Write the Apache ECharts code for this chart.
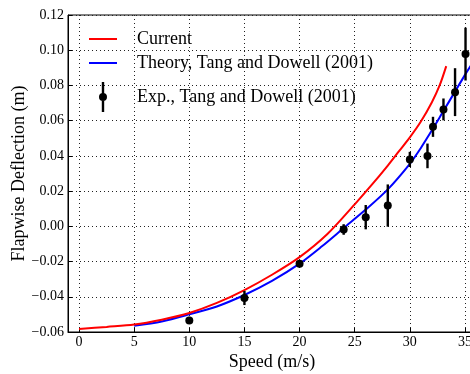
<!DOCTYPE html>
<html>
<head>
<meta charset="utf-8">
<script src="https://cdn.jsdelivr.net/npm/echarts@6/dist/echarts.min.js"></script>
<style>
  html, body { margin: 0; padding: 0; background: #fff; }
  #main { width: 470px; height: 374px; }
</style>
</head>
<body>
<div id="main"></div>
<script>
// speed (m/s) samples for the two model curves
const currentSpeed = [0, 2.5, 5, 7.5, 10, 12.5, 15, 17.5, 20, 22.5, 25, 26.5, 28, 29, 30, 31, 32, 32.7, 33.3];
const currentDefl = [-0.0583, -0.0571, -0.0558, -0.053, -0.0492, -0.0435, -0.0362, -0.0275, -0.0175, -0.0045, 0.0125, 0.0232, 0.0345, 0.0425, 0.0505, 0.0595, 0.0705, 0.080, 0.091];
const theorySpeed = [5, 7.5, 10, 12.5, 15, 17.5, 20, 22, 24, 26, 28, 30, 31, 32, 33, 34, 35, 35.6];
const theoryDefl = [-0.0565, -0.054, -0.050, -0.0455, -0.039, -0.031, -0.0212, -0.0115, -0.001, 0.0095, 0.021, 0.0355, 0.0445, 0.0545, 0.065, 0.0755, 0.086, 0.092];
// experiment: speed, deflection, +/- error
const expSpeed = [10, 15, 20, 24, 26, 28, 30, 31.6, 32.1, 33.05, 34.1, 35.05];
const expDefl = [-0.0534, -0.0407, -0.0212, -0.0018, 0.0052, 0.0118, 0.038, 0.040, 0.0565, 0.0664, 0.0762, 0.0978];
const expErr = [0.002, 0.004, 0.002, 0.003, 0.0069, 0.012, 0.0043, 0.007, 0.0057, 0.0062, 0.0136, 0.015];
const xTicks = [0, 5, 10, 15, 20, 25, 30, 35];

const names = ['Current', 'Theory, Tang and Dowell (2001)', 'Exp., Tang and Dowell (2001)'];
const serif = 'Liberation Serif';
const lineIcon = 'path://M0,0 h28 v2 h-28 Z';

const zip = (a, b, c) => a.map((v, i) => c ? [v, b[i], c[i]] : [v, b[i]]);

const myChart = echarts.init(document.getElementById('main'));

let option = {
    animation: false,
    textStyle: { fontFamily: serif },
    grid: {
        left: 68,
        right: -6,
        top: 15,
        bottom: 42,
        outerBoundsMode: 'none',
        containLabel: false,
        show: true,
        borderColor: '#000',
        borderWidth: 1,
        backgroundColor: 'transparent'
    },
    legend: [
        {
            data: [{ name: names[0], icon: lineIcon }, { name: names[1], icon: lineIcon }],
            orient: 'vertical',
            left: 89,
            top: 30,
            padding: 0,
            itemWidth: 28,
            itemHeight: 14,
            itemGap: 6,
            textStyle: { fontFamily: serif, fontSize: 18, color: '#000', padding: [0, 0, 0, 15] }
        },
        {
            data: [{
                name: names[2],
                icon: 'path://M0,0 L0.01,0 Z M28,30 L28.01,30 Z M12.8,0 h2.4 v30 h-2.4 Z M10,15 a4,4 0 1,1 8,0 a4,4 0 1,1 -8,0 Z'
            }],
            left: 89,
            top: 82,
            padding: 0,
            itemWidth: 28,
            itemHeight: 30,
            textStyle: { fontFamily: serif, fontSize: 18, color: '#000', padding: [0, 0, 0, 15] }
        }
    ],
    xAxis: {
        type: 'value',
        min: -1,
        max: 36,
        name: 'Speed (m/s)',
        nameLocation: 'middle',
        nameGap: 21,
        nameMoveOverlap: false,
        nameTextStyle: { fontFamily: serif, fontSize: 18, color: '#000' },
        axisLine: { show: true, onZero: false, lineStyle: { color: '#000', width: 1 } },
        axisTick: { show: true, inside: true, length: 4, customValues: xTicks, lineStyle: { color: '#000' } },
        axisLabel: { customValues: xTicks, fontFamily: serif, fontSize: 14, color: '#000', margin: 3 },
        splitLine: { show: true, lineStyle: { color: '#222', type: [1, 3], width: 1 } }
    },
    yAxis: {
        type: 'value',
        min: -0.06,
        max: 0.12,
        interval: 0.02,
        name: 'Flapwise Deflection (m)',
        nameLocation: 'middle',
        nameGap: 40,
        nameMoveOverlap: false,
        nameTextStyle: { fontFamily: serif, fontSize: 18, color: '#000' },
        axisLine: { show: true, onZero: false, lineStyle: { color: '#000', width: 1 } },
        axisTick: { show: true, inside: true, length: 4, lineStyle: { color: '#000' } },
        axisLabel: {
            fontFamily: serif, fontSize: 14, color: '#000', margin: 4,
            formatter: v => v.toFixed(2).replace('-', '\u2212')
        },
        splitLine: { show: true, lineStyle: { color: '#222', type: [1, 3], width: 1 } }
    },
    series: [
        {
            name: names[1],
            type: 'line',
            smooth: 0.3,
            symbol: 'none',
            color: '#0000ff',
            lineStyle: { width: 2, color: '#0000ff' },
            data: zip(theorySpeed, theoryDefl)
        },
        {
            name: names[0],
            type: 'line',
            smooth: 0.3,
            symbol: 'none',
            color: '#ff0000',
            lineStyle: { width: 2, color: '#ff0000' },
            data: zip(currentSpeed, currentDefl)
        },
        {
            name: names[2],
            type: 'custom',
            color: '#000',
            z: 5,
            data: zip(expSpeed, expDefl, expErr),
            renderItem: function (params, api) {
                const x = api.value(0), y = api.value(1), e = api.value(2);
                const c = api.coord([x, y]);
                const lo = api.coord([x, y - e]);
                const hi = api.coord([x, y + e]);
                return {
                    type: 'group',
                    children: [
                        { type: 'line', shape: { x1: c[0], y1: lo[1], x2: c[0], y2: hi[1] }, style: { stroke: '#000', lineWidth: 2.4 } },
                        { type: 'circle', shape: { cx: c[0], cy: c[1], r: 4 }, style: { fill: '#000' } }
                    ]
                };
            }
        }
    ]
};

myChart.setOption(option, true);
</script>
</body>
</html>
